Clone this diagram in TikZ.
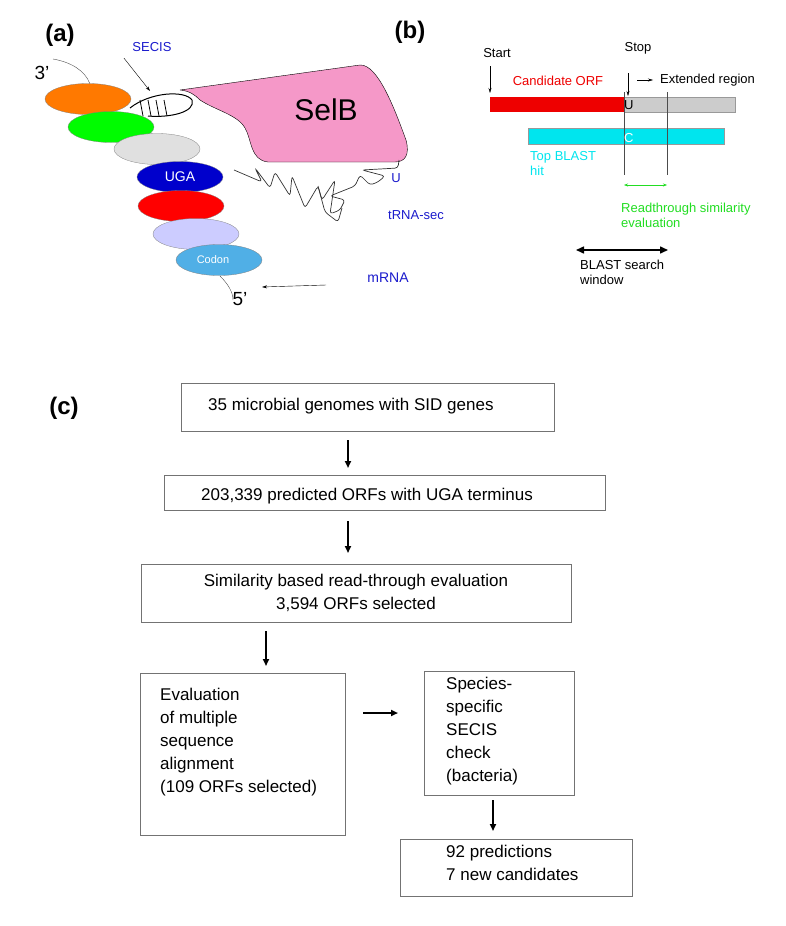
\documentclass[tikz,border=0pt]{standalone}
\usepackage{fontspec}
\setmainfont{Liberation Sans}
\usetikzlibrary{arrows.meta}
\definecolor{selb}{HTML}{F598C8}
\definecolor{lblue}{HTML}{1A1ACC}
\definecolor{orf}{HTML}{EE0000}
\definecolor{hitc}{HTML}{00E5EE}
\definecolor{rgreen}{HTML}{22DD22}
\begin{document}
\begin{tikzpicture}[x=1pt,y=-1pt,
  box/.style={draw=black!55,line width=0.7pt},
  flow/.style={-{Triangle[length=7pt,width=6pt]},line width=1.8pt},
  rib/.style={draw=black!60,line width=0.4pt},
  lab/.style={font=\fontsize{24}{24}\selectfont\bfseries},
  bl/.style={text=lblue,font=\fontsize{13}{13}\selectfont},
  sm/.style={font=\fontsize{13}{15}\selectfont,inner sep=0pt},
  ft/.style={font=\fontsize{17}{23}\selectfont,inner sep=0pt},
  thin/.style={-{Stealth[length=5pt,width=3pt]},line width=0.4pt}]
\useasboundingbox (0,0) rectangle (785,926);

% ---------- panel (a)
\node[lab] (la) at (60,35) {(a)};
\node[lab] (lb) at (410,32) {(b)};
\node[lab] (lc) at (64,408) {(c)};

% SelB
\fill[selb,draw=black,line width=0.4pt] (180,90) -- (360,65)
  .. controls (378,64) and (395,110) .. (406,140)
  .. controls (410,155) and (405,162) .. (395,162)
  -- (268,162) .. controls (250,160) and (252,140) .. (245,128)
  .. controls (238,115) and (215,110) .. (200,100)
  .. controls (195,95) and (190,91) .. (180,90);
\node[font=\fontsize{30}{30}\selectfont] (selb) at (326,110) {SelB};

% tRNA squiggle
\draw[black!80,line width=0.7pt,rounded corners=3pt]
  (234,170) -- (262,182) -- (255,168) -- (270,188) -- (275,172) -- (290,196)
  -- (292,176) -- (305,208) -- (318,186) -- (322,200) -- (335,180) -- (330,214)
  -- (340,210) -- (345,200) -- (330,196) -- (355,186) -- (360,175) -- (370,185)
  -- (378,182) -- (385,176) -- (362,170) -- (398,168) -- (399,160);
\draw[black!80,line width=0.7pt,rounded corners=3pt]
  (318,186) -- (325,212) -- (338,222) -- (342,208);
\node[bl] (u) at (396,178) {U};
\node[bl] (trna) at (416,215) {tRNA-sec};

% ribosome / mRNA beads
\draw[black!70,line width=0.4pt] (53,59) .. controls (70,62) and (85,70) .. (90,84);
\node[font=\fontsize{19}{19}\selectfont] (p3) at (42,73) {3’};
\foreach \n/\c/\x/\y in {o/{orange!95!red}/88/99, g/{green!90!black!10!green}/111/127,
   gr/{black!12}/157/149, ug/{blue!80!black}/180/177, r/red/181/206,
   lv/{blue!20}/196/234, cd/{cyan!80!blue!70!white}/219/260}
  \fill[\c,draw=black!50,line width=0.3pt] (\x,\y) ellipse (43 and 15.5);
\node[text=white,font=\fontsize{14}{14}\selectfont] (uga) at (180,177) {UGA};
\node[text=white,font=\fontsize{11}{11}\selectfont] (codon) at (213,260) {Codon};
\draw[black!70,line width=0.4pt] (220,276) .. controls (228,284) and (233,292) .. (233,300);
\node[font=\fontsize{19}{19}\selectfont] (p5) at (240,299) {5’};
% SECIS hairpin
\draw[black,line width=1pt] (130,108) .. controls (150,92) and (185,90) .. (192,100)
  .. controls (196,112) and (170,118) .. (148,116);
\foreach \x in {140,148,156,164}
  \draw[black,line width=0.8pt] (\x,100) -- (\x+3,116);
\node[bl] (secis) at (152,47) {SECIS};
\coordinate (sectip) at (150,91);
\draw[thin] (secis.south west)++(-5,3) -- (sectip);
\node[bl,font=\fontsize{14}{14}\selectfont] (mrna) at (388,278) {mRNA};
\coordinate (mtip) at (262,287);
\draw[thin] (326,285) -- (mtip);

% ---------- panel (b)
\fill[orf] (490,97) rectangle (624,112);
\fill[black!20,draw=black!40,line width=0.3pt] (624,97) rectangle (735,112);
\fill[hitc,draw=black!40,line width=0.3pt] (528,128) rectangle (724,144);
\coordinate (v1t) at (624,92); \coordinate (v1b) at (624,175);
\coordinate (v2t) at (667,92); \coordinate (v2b) at (667,175);
\draw[black!70,line width=0.6pt] (v1t) -- (v1b) (v2t) -- (v2b);
\node[sm,anchor=west] (uu) at (624,105) {U};
\node[sm,anchor=west,text=white] (cc) at (624,138) {C};
\node[sm] (start) at (497,53) {Start};
\node[sm] (stop) at (638,48) {Stop};
\draw[thin] (490,66) -- (490,93);
\draw[thin] (628,73) -- (628,96);
\draw[thin] (637,80) -- (653,80);
\node[sm,anchor=west] (ext) at (660,80) {Extended region};
\node[sm,text=orf] (corf) at (558,81) {Candidate ORF};
\node[sm,text=hitc,anchor=north west,align=left] (top) at (530,151) {Top BLAST\\hit};
\draw[{Stealth[length=4pt]}-{Stealth[length=4pt]},rgreen,line width=0.5pt] (624,185) -- (667,185);
\node[sm,text=rgreen,anchor=north west,align=left] (rt) at (621,203) {Readthrough similarity\\evaluation};
\draw[{Triangle[length=8pt,width=7pt]}-{Triangle[length=8pt,width=7pt]},line width=1.5pt] (576,250) -- (668,250);
\node[sm,anchor=north west,align=left] (bw) at (580,260) {BLAST search\\window};

% ---------- panel (c)
\node[box,minimum width=373pt,minimum height=48pt] (b1) at (367.5,407) {};
\node[ft,anchor=west] at (208,406) {35 microbial genomes with SID genes};
\node[box,minimum width=441pt,minimum height=35pt] (b2) at (384.5,492.5) {};
\node[ft,anchor=west] at (201,496) {203,339 predicted ORFs with UGA terminus};
\node[box,minimum width=430pt,minimum height=58pt,ft,align=center] (b3) at (356,593)
  {Similarity based read-through evaluation\\3,594 ORFs selected};
\node[box,minimum width=205pt,minimum height=162pt] (b4) at (242.5,754) {};
\node[ft,anchor=north west,align=left] at (160,688)
  {Evaluation\\of multiple\\sequence\\alignment\\(109 ORFs selected)};
\node[box,minimum width=150pt,minimum height=124pt] (b5) at (499,733) {};
\node[ft,anchor=north west,align=left] at (446,677)
  {Species-\\specific\\SECIS\\check\\(bacteria)};
\node[box,minimum width=232pt,minimum height=57pt] (b6) at (516,867.5) {};
\node[ft,anchor=north west,align=left] at (446,845) {92 predictions\\7 new candidates};

\draw[flow] (348,440) -- (348,468);
\draw[flow] (348,521) -- (348,553);
\draw[flow] (266,631) -- (266,666);
\draw[flow] (363,713) -- (398,713);
\draw[flow] (493,800) -- (493,831);
\end{tikzpicture}
\end{document}
